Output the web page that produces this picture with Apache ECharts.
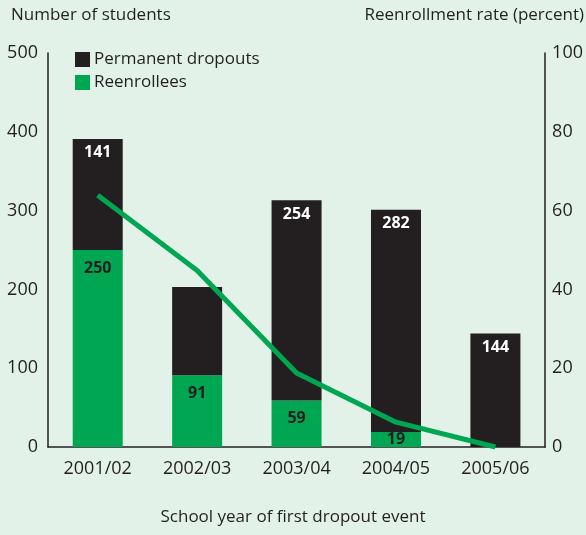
<!DOCTYPE html>
<html>
<head>
<meta charset="utf-8">
<script src="https://cdn.jsdelivr.net/npm/echarts@6/dist/echarts.min.js"></script>
<style>
  html, body { margin: 0; padding: 0; background: #e3f2e8; }
  #main { width: 586px; height: 535px; }
</style>
</head>
<body>
<div id="main"></div>
<script>
// data
var years = ['2001/02', '2002/03', '2003/04', '2004/05', '2005/06'];
var reenrollees = [250, 91, 59, 19, 0];
var dropouts = [141, 112, 254, 282, 144];
var rate = [63.9, 44.8, 18.8, 6.3, 0];
var leftTicks = [0, 500, 100];   // min, max, step
var rightTicks = [0, 100, 20];

var dark = '#231f20';
var green = '#00a651';
var font = 'Open Sans';

// which bar labels are hidden
var showDrop = [true, false, true, true, true];

var greenData = reenrollees.map(function(v, i) {
    var item = { value: v };
    if (v === 0) item.label = { show: false };
    else if (v < 30) item.label = { position: 'inside' };
    return item;
});
var dropData = dropouts.map(function(v, i) {
    return { value: v, label: { show: showDrop[i] } };
});

var myChart = echarts.init(document.getElementById('main'));
var option = {
    backgroundColor: '#e3f2e8',
    textStyle: { fontFamily: font },
    grid: { left: 48, right: 39, top: 53, bottom: 88 },
    legend: {
        data: ['Permanent dropouts', 'Reenrollees'],
        orient: 'vertical',
        left: 70,
        top: 46,
        icon: 'rect',
        itemWidth: 15,
        itemHeight: 15,
        itemGap: 6,
        textStyle: { fontSize: 17, color: dark, fontFamily: font, padding: [0, 0, 0, -1] }
    },
    graphic: [
        { type: 'text', left: 11, top: 7, style: { text: 'Number of students', fontSize: 17, fill: dark, fontFamily: font } },
        { type: 'text', right: 2, top: 7, style: { text: 'Reenrollment rate (percent)', fontSize: 17, fill: dark, fontFamily: font } },
        { type: 'text', left: 'center', top: 509, style: { text: 'School year of first dropout event', fontSize: 17, fill: dark, fontFamily: font } }
    ],
    xAxis: {
        type: 'category',
        data: years,
        axisLine: { lineStyle: { color: dark, width: 1.5 } },
        axisTick: { show: false },
        axisLabel: { fontSize: 18, color: dark, margin: 13 }
    },
    yAxis: [{
        type: 'value',
        min: leftTicks[0], max: leftTicks[1], interval: leftTicks[2],
        axisLine: { show: true, lineStyle: { color: dark, width: 1.5 } },
        axisTick: { show: false },
        splitLine: { show: false },
        axisLabel: { fontSize: 18, color: dark, margin: 10, padding: [3, 0, 0, 0] }
    }, {
        type: 'value',
        min: rightTicks[0], max: rightTicks[1], interval: rightTicks[2],
        axisLine: { show: true, lineStyle: { color: dark, width: 1.5 } },
        axisTick: { show: false },
        splitLine: { show: false },
        axisLabel: { fontSize: 18, color: dark, margin: 7, padding: [3, 0, 0, 0] }
    }],
    series: [{
        name: 'Reenrollees',
        type: 'bar',
        stack: 'total',
        barWidth: 50,
        itemStyle: { color: green },
        label: { show: true, position: 'insideTop', distance: 10, fontSize: 16, fontWeight: 'bold', color: dark },
        data: greenData
    }, {
        name: 'Permanent dropouts',
        type: 'bar',
        stack: 'total',
        barWidth: 50,
        itemStyle: { color: dark },
        label: { show: true, position: 'insideTop', distance: 6, fontSize: 16, fontWeight: 'bold', color: '#fff' },
        data: dropData
    }, {
        name: 'Reenrollment rate',
        type: 'line',
        yAxisIndex: 1,
        symbol: 'none',
        lineStyle: { color: green, width: 5 },
        itemStyle: { color: green },
        data: rate,
        z: 5
    }]
};
myChart.setOption(option);
</script>
</body>
</html>
